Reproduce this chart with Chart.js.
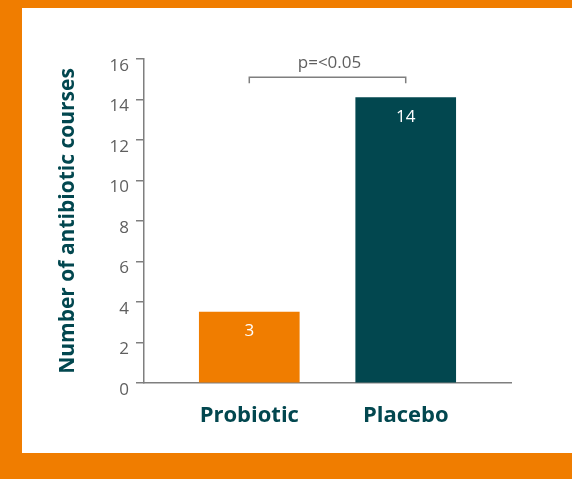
<!DOCTYPE html>
<html>
<head>
<meta charset="utf-8">
<script src="https://cdn.jsdelivr.net/npm/chart.js@4/dist/chart.umd.min.js"></script>
<style>
  html, body { margin: 0; padding: 0; }
  body { width: 572px; height: 479px; background: #F07D00; position: relative; overflow: hidden; }
  #panel { position: absolute; left: 22px; top: 8px; width: 550px; height: 445px; background: #ffffff; }
  canvas { display: block; }
</style>
</head>
<body>
<div id="panel"><canvas id="c" width="550" height="445"></canvas></div>
<script>
// ---- data ----
const categories = ['Probiotic', 'Placebo'];
const courses = [3.5, 14.1];          // bar heights
const barLabels = ['3', '14'];        // labels printed inside bars
const yTicks = [0, 2, 4, 6, 8, 10, 12, 14, 16];
const yTitle = 'Number of antibiotic courses';
const bracketFrom = 0;                // category index
const bracketTo = 1;                  // category index
const bracketLevel = 15.1;            // y value of bracket line
const bracketText = 'p=<0.05';

const ORANGE = '#F07D00';
const TEAL = '#02474F';
const GREY = '#7f7f7f';
const TEXT_GREY = '#5f5f5f';

const barLabelPlugin = {
  id: 'barLabels',
  afterDatasetsDraw(chart) {
    const ctx = chart.ctx;
    const meta = chart.getDatasetMeta(0);
    ctx.save();
    ctx.fillStyle = '#ffffff';
    ctx.font = '17px "Open Sans"';
    ctx.textAlign = 'center';
    ctx.textBaseline = 'middle';
    meta.data.forEach((bar, i) => {
      ctx.fillText(barLabels[i], bar.x, bar.y + 19.5);
    });
    ctx.restore();
  }
};

const bracketPlugin = {
  id: 'bracket',
  afterDatasetsDraw(chart) {
    const ctx = chart.ctx;
    const xs = chart.scales.x, ys = chart.scales.y;
    const x1 = xs.getPixelForValue(bracketFrom);
    const x2 = xs.getPixelForValue(bracketTo);
    const y = ys.getPixelForValue(bracketLevel);
    ctx.save();
    ctx.strokeStyle = GREY;
    ctx.lineWidth = 1.5;
    ctx.beginPath();
    ctx.moveTo(x1, y + 6);
    ctx.lineTo(x1, y);
    ctx.lineTo(x2, y);
    ctx.lineTo(x2, y + 6);
    ctx.stroke();
    ctx.fillStyle = TEXT_GREY;
    ctx.font = '17px "Open Sans"';
    ctx.textAlign = 'center';
    ctx.textBaseline = 'alphabetic';
    ctx.fillText(bracketText, (x1 + x2) / 2 + 2, y - 9);
    ctx.restore();
  }
};

new Chart(document.getElementById('c'), {
  type: 'bar',
  data: {
    datasets: [{
      data: categories.map((c, i) => ({ x: i, y: courses[i] })),
      backgroundColor: [ORANGE, TEAL],
      borderWidth: 0,
      barThickness: 100
    }]
  },
  options: {
    responsive: false,
    animation: false,
    events: [],
    layout: { padding: { left: 33, top: 51, right: 61, bottom: 10 } },
    plugins: { legend: { display: false }, tooltip: { enabled: false } },
    scales: {
      x: {
        type: 'linear',
        offset: false,
        min: -0.673,
        max: 1.673,
        afterBuildTicks(scale) { scale.ticks = categories.map((c, i) => ({ value: i })); },
        afterFit(scale) { scale.height = 60; },
        grid: { display: false, offset: false },
        border: { display: true, color: GREY, width: 1.5 },
        ticks: {
          autoSkip: false,
          maxRotation: 0,
          padding: 12,
          color: TEAL,
          font: { family: '"Open Sans"', size: 22, weight: 'bold' },
          callback: (v) => categories[v]
        }
      },
      y: {
        min: 0,
        max: 16,
        afterBuildTicks(scale) { scale.ticks = yTicks.map(v => ({ value: v })); },
        afterFit(scale) { scale.width = 89; },
        grid: { display: true, drawOnChartArea: false, drawTicks: true, tickLength: 8, color: GREY, lineWidth: 1.5 },
        border: { display: true, color: GREY, width: 1.5 },
        ticks: {
          padding: 7,
          labelOffset: 7,
          color: TEXT_GREY,
          font: { family: '"Open Sans"', size: 17 }
        },
        title: {
          display: true,
          text: yTitle,
          color: TEAL,
          padding: { top: 0, bottom: 0 },
          font: { family: '"Open Sans"', size: 21, weight: 'bold' }
        }
      }
    }
  },
  plugins: [barLabelPlugin, bracketPlugin]
});
</script>
</body>
</html>
